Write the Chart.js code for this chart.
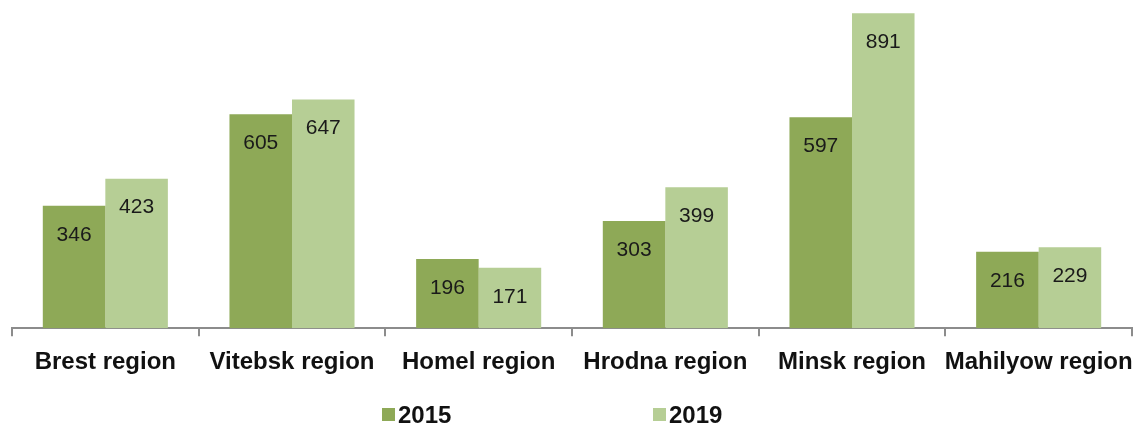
<!DOCTYPE html>
<html>
<head>
<meta charset="utf-8">
<script src="https://cdn.jsdelivr.net/npm/chart.js@4"></script>
<style>
  html, body { margin: 0; padding: 0; background: #fff; }
  #wrap { position: relative; width: 1133px; height: 423px; }
  .leg { position: absolute; font: bold 24px "Liberation Sans", Arial, sans-serif; color: #111; line-height: 1; }
  .leg i { position: absolute; width: 13px; height: 13px; }
</style>
</head>
<body>
<div id="wrap">
  <canvas id="c" width="1133" height="423"></canvas>
  <div class="leg" style="left:382px;top:403px;"><i style="left:0;top:5px;background:#8ea957"></i><span style="margin-left:16px">2015</span></div>
  <div class="leg" style="left:653px;top:403px;"><i style="left:0;top:5px;background:#b6ce95"></i><span style="margin-left:16px">2019</span></div>
</div>
<script>
const categories = ["Brest region", "Vitebsk region", "Homel region", "Hrodna region", "Minsk region", "Mahilyow region"];
const values2015 = [346, 605, 196, 303, 597, 216];
const values2019 = [423, 647, 171, 399, 891, 229];
const seriesLabels = ["2015", "2019"];

const barLabels = {
  id: "barLabels",
  afterDatasetsDraw(chart) {
    const ctx = chart.ctx;
    ctx.save();
    ctx.font = '21px "Liberation Sans", Arial, sans-serif';
    ctx.fillStyle = "#1a1a1a";
    ctx.textAlign = "center";
    ctx.textBaseline = "middle";
    chart.data.datasets.forEach((ds, i) => {
      chart.getDatasetMeta(i).data.forEach((bar, j) => {
        ctx.fillText(ds.data[j], bar.x, bar.y + 29);
      });
    });
    ctx.restore();
  }
};

new Chart(document.getElementById("c"), {
  type: "bar",
  data: {
    labels: categories,
    datasets: [
      { label: seriesLabels[0], data: values2015, backgroundColor: "#8ea957" },
      { label: seriesLabels[1], data: values2019, backgroundColor: "#b6ce95" }
    ]
  },
  options: {
    responsive: false,
    animation: false,
    categoryPercentage: 0.67,
    barPercentage: 1.0,
    layout: { padding: { left: 12, right: 1, top: 10, bottom: 34 } },
    plugins: { legend: { display: false }, tooltip: { enabled: false } },
    scales: {
      x: {
        afterFit(scale) { scale.paddingLeft = 0; scale.paddingRight = 0; },
        grid: { display: true, drawOnChartArea: false, drawTicks: true, tickLength: 8, color: "#8c8c8c", lineWidth: 2 },
        border: { color: "#8c8c8c", width: 2 },
        ticks: { color: "#111", padding: 12, maxRotation: 0, minRotation: 0, autoSkip: false,
                 font: { family: '"Liberation Sans", Arial, sans-serif', size: 24, weight: "bold" } }
      },
      y: { display: false, min: 0, max: 900 }
    }
  },
  plugins: [barLabels]
});
</script>
</body>
</html>
